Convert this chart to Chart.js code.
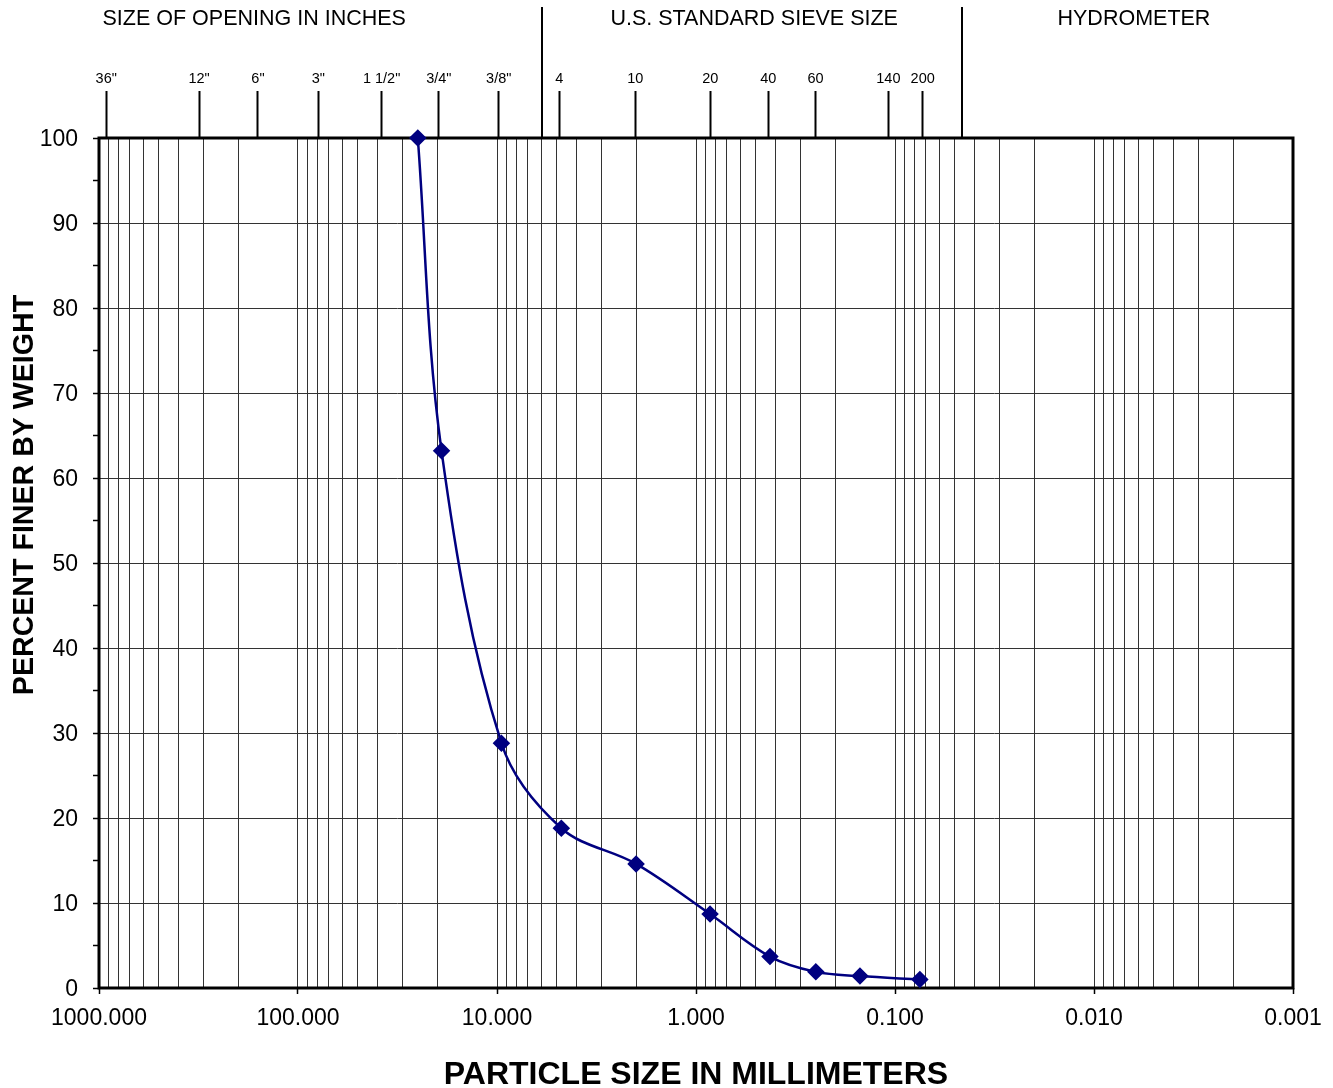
<!DOCTYPE html>
<html><head><meta charset="utf-8">
<script src="https://cdn.jsdelivr.net/npm/chart.js@4"></script>
<style>html,body{margin:0;padding:0;background:#fff}#wrap{width:1333px;height:1088px;position:relative}</style>
</head><body><div id="wrap"><canvas id="c"></canvas></div>
<script>
// ---- data ----
const sizesMm = [25.0, 19.0, 9.5, 4.75, 2.0, 0.85, 0.425, 0.25, 0.15, 0.075];
const percentFiner = [100, 63.2, 28.8, 18.8, 14.6, 8.7, 3.7, 1.9, 1.4, 1.0];
const sieveLabels = ['36"', '12"', '6"', '3"', '1 1/2"', '3/4"', '3/8"', '4', '10', '20', '40', '60', '140', '200'];
const sieveSizesMm = [920, 314, 159, 79, 38, 19.6, 9.8, 4.86, 2.02, 0.848, 0.433, 0.251, 0.108, 0.0726];
const dividerSizesMm = [5.94, 0.0462];
const sectionTitles = ['SIZE OF OPENING IN INCHES', 'U.S. STANDARD SIEVE SIZE', 'HYDROMETER'];
const sectionTitleAt = [166, 0.51, 0.0063];
const yTitle = 'PERCENT FINER BY WEIGHT';
const yTitleAt = 58;
const xTitle = 'PARTICLE SIZE IN MILLIMETERS';
const decades = [-3, -2, -1, 0, 1, 2];
const mantissas = [1, 2, 3, 4, 5, 6, 7, 8, 9];

const FONT = '"Liberation Sans", Arial, sans-serif';
const gridValues = [];
decades.forEach(e => mantissas.forEach(m => gridValues.push(+(m * Math.pow(10, e)).toPrecision(3))));
gridValues.push(1000);
const isDecade = v => Math.abs(Math.log10(v) - Math.round(Math.log10(v))) < 1e-9;

const decor = {
  id: 'decor',
  beforeDatasetsDraw(chart) {
    const {ctx, chartArea: a} = chart;
    ctx.save();
    ctx.strokeStyle = '#000'; ctx.lineWidth = 3;
    ctx.strokeRect(a.left, a.top, a.right - a.left, a.bottom - a.top);
    ctx.restore();
  },
  afterDraw(chart) {
    const {ctx, chartArea: a, scales} = chart;
    const x2 = scales.x2, y = scales.y;
    ctx.save();
    ctx.strokeStyle = '#000'; ctx.lineWidth = 2;
    dividerSizesMm.forEach(v => {
      const px = Math.round(x2.getPixelForValue(v));
      ctx.beginPath(); ctx.moveTo(px, 7); ctx.lineTo(px, a.top); ctx.stroke();
    });
    ctx.fillStyle = '#000';
    ctx.font = '21.5px ' + FONT; ctx.textAlign = 'center'; ctx.textBaseline = 'middle';
    sectionTitles.forEach((t, i) => ctx.fillText(t, x2.getPixelForValue(sectionTitleAt[i]), 19));
    ctx.translate(25, y.getPixelForValue(yTitleAt)); ctx.rotate(-Math.PI / 2);
    ctx.font = 'bold 28.6px ' + FONT;
    ctx.fillText(yTitle, 0, 0);
    ctx.restore();
  }
};

new Chart(document.getElementById('c'), {
  type: 'scatter',
  data: {
    datasets: [{
      data: sizesMm.map((s, i) => ({x: s, y: percentFiner[i]})),
      showLine: true,
      borderColor: '#000080',
      backgroundColor: '#000080',
      borderWidth: 2.5,
      pointStyle: 'rectRot',
      pointRadius: 7,
      pointHoverRadius: 7,
      pointBackgroundColor: '#000080',
      pointBorderColor: '#000080',
      tension: 0.35,
      clip: false
    }]
  },
  options: {
    responsive: true,
    maintainAspectRatio: false,
    animation: false,
    events: [],
    layout: {padding: {left: 0, right: 40, top: 0, bottom: 0}},
    plugins: {legend: {display: false}, tooltip: {enabled: false}},
    scales: {
      x: {
        type: 'logarithmic', position: 'bottom', reverse: true, min: 0.001, max: 1000,
        afterBuildTicks: ax => { ax.ticks = gridValues.map(v => ({value: v})); },
        afterFit: ax => { ax.height = 100; },
        border: {display: false},
        grid: {
          color: '#333', lineWidth: 1, tickLength: 6,
          tickColor: c => (c.tick && isDecade(c.tick.value)) ? '#000' : 'rgba(0,0,0,0)',
          tickWidth: 1.5
        },
        ticks: {
          autoSkip: false, maxRotation: 0, minRotation: 0, padding: 11, color: '#000',
          font: {family: FONT, size: 23},
          callback: v => isDecade(v) ? Number(v).toFixed(3) : ''
        },
        title: {display: true, text: xTitle, color: '#000', font: {family: FONT, size: 32, weight: 'bold', lineHeight: 0.8}, padding: {top: 0, bottom: 0}}
      },
      x2: {
        type: 'logarithmic', position: 'top', reverse: true, min: 0.001, max: 1000,
        afterBuildTicks: ax => { ax.ticks = sieveSizesMm.map(v => ({value: v})); },
        afterFit: ax => { ax.height = 138; },
        border: {display: false},
        grid: {drawOnChartArea: false, tickLength: 47, tickWidth: 2, tickColor: '#000', color: '#000'},
        ticks: {
          autoSkip: false, maxRotation: 0, minRotation: 0, padding: 3, color: '#000',
          font: {family: FONT, size: 14.5},
          callback: (v, i) => sieveLabels[i]
        }
      },
      y: {
        type: 'linear', min: 0, max: 100,
        afterFit: ax => { ax.width = 99; },
        border: {display: false},
        grid: {
          color: c => (c.tick && c.tick.value % 10 === 0) ? '#333' : 'rgba(0,0,0,0)',
          lineWidth: 1, tickLength: 6, tickColor: '#000', tickWidth: 1.5
        },
        ticks: {
          stepSize: 5, autoSkip: false, padding: 15, labelOffset: 2, color: '#000',
          font: {family: FONT, size: 23},
          callback: v => v % 10 === 0 ? String(v) : ''
        }
      }
    }
  },
  plugins: [decor]
});
</script>
</body></html>
